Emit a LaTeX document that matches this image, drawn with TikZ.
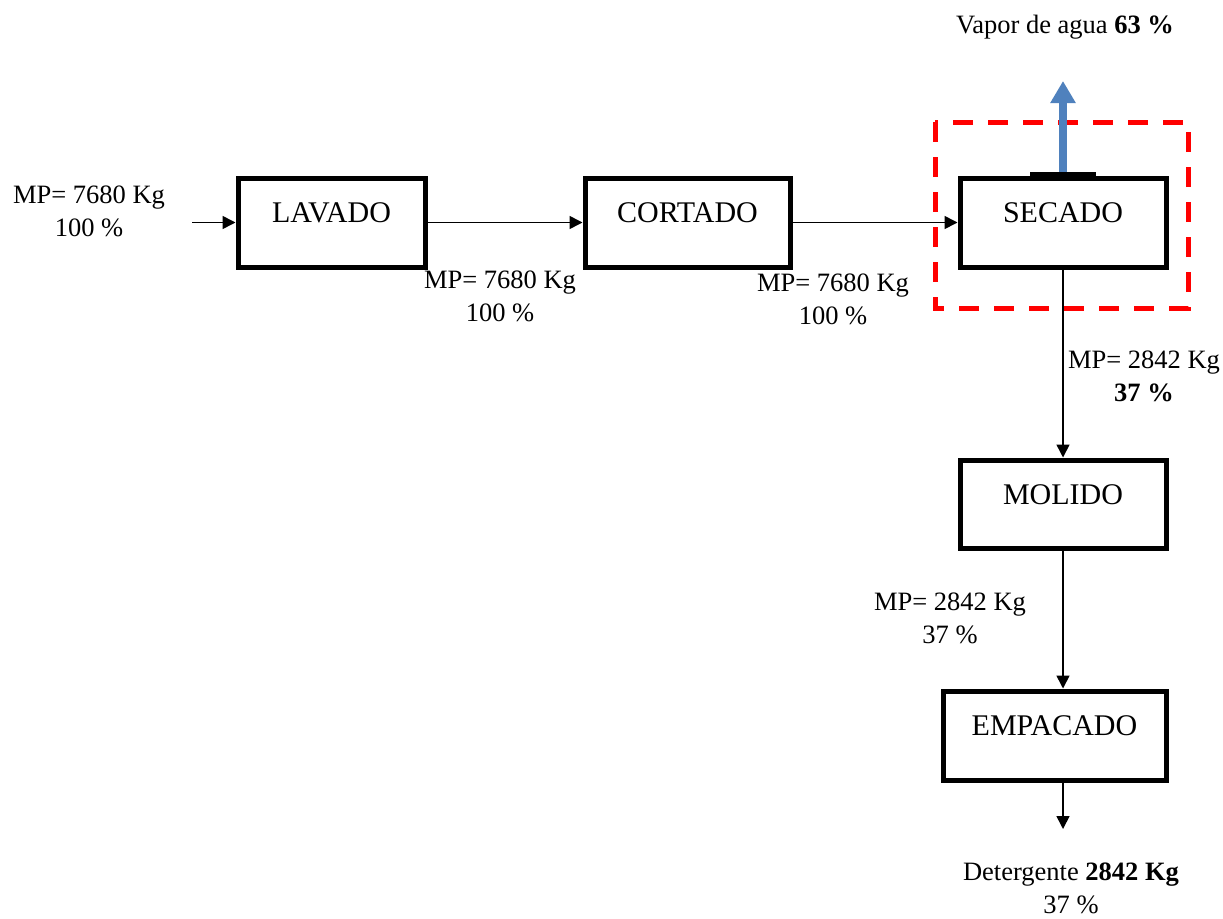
\documentclass[tikz,border=0pt]{standalone}
\usepackage{fontspec}
\setmainfont{Liberation Serif}
\usetikzlibrary{arrows.meta}
\definecolor{steamblue}{RGB}{79,129,189}
\begin{document}
\begin{tikzpicture}[x=1pt,y=-1pt,
  every node/.style={font=\fontsize{26.5}{33}\selectfont},
  procbox/.style={draw, line width=5pt, rectangle, inner sep=0pt,
    font=\fontsize{30}{36}\selectfont,
    text height=44.5pt, text depth=44.5pt, align=center},
  flow/.style={line width=1.6pt, -{Triangle[length=13pt,width=13pt]}},
  flowlabel/.style={align=center, inner sep=0pt}]
\useasboundingbox (0,0) rectangle (1223,918);

% process steps
\node[procbox, minimum width=187pt] (lavado) at (331.5,222.5) {LAVADO};
\node[procbox, minimum width=205pt] (cortado) at (687.5,222.5) {CORTADO};
\node[procbox, minimum width=206pt] (secado) at (1063,222.5) {SECADO};
\node[procbox, minimum width=206pt, text height=44pt, text depth=44pt] (molido) at (1063,504) {MOLIDO};
\node[procbox, minimum width=223pt] (empacado) at (1054.5,735.5) {EMPACADO};

% free ends
\coordinate (feed) at (192,222.5);
\coordinate (product) at (1063,829);
\coordinate (vapour) at (1063,81);

% dryer boundary
\draw[red, line width=5pt, dash pattern=on 20pt off 15pt] (935,122) rectangle (1188,308);

% water vapour leaving the dryer
\draw[steamblue, line width=8pt, -{Triangle[length=22pt,width=24pt]}] (secado.north) -- (vapour);
\draw[line width=8pt] ([xshift=-33pt]secado.north) -- ([xshift=33pt]secado.north);

% material flow
\draw[flow] (feed) -- (lavado.west);
\draw[flow] (lavado.east) -- (cortado.west);
\draw[flow] (cortado.east) -- (secado.west);
\draw[flow] (secado.south) -- (molido.north);
\draw[flow] (molido.south) -- (molido.south |- empacado.north);
\draw[flow] (empacado.south -| molido.south) -- (product);

% stream labels
\node[flowlabel] (l0) at (89,211) {MP= 7680 Kg\\100 \%};
\node[flowlabel] (l1) at (500,296) {MP= 7680 Kg\\100 \%};
\node[flowlabel] (l2) at (833,299) {MP= 7680 Kg\\100 \%};
\node[flowlabel] (l3) at (1144,376) {MP= 2842 Kg\\\textbf{37 \%}};
\node[flowlabel] (l4) at (950,618) {MP= 2842 Kg\\37 \%};
\node[flowlabel] (l5) at (1065,27) {Vapor de agua \textbf{63 \%}};
\node[flowlabel] (l6) at (1071,888) {Detergente \textbf{2842 Kg}\\37 \%};
\end{tikzpicture}
\end{document}
